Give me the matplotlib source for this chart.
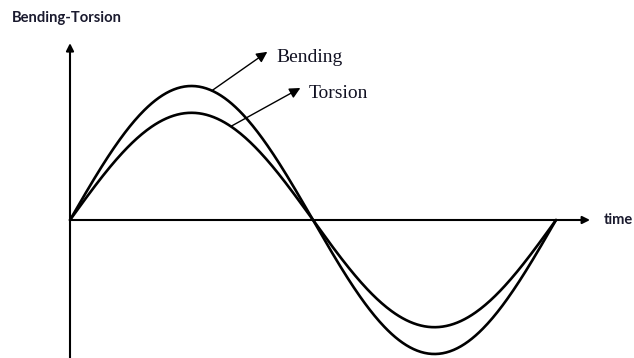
import numpy as np
import matplotlib.pyplot as plt

# series: amplitude of each wave (relative), one full period of time
series = ["Bending", "Torsion"]
amplitudes = [1.0, 0.8]
periods = 1.0

# where the two labels point on their curve, and where the labels sit
arrow_from_t = [0.292, 0.331]
label_pos = [(0.424, 1.215), (0.492, 0.945)]

W, H = 634, 358
fig = plt.figure(figsize=(W / 100, H / 100), dpi=100)
# axes box: t=0..1 -> px 70..556, y=-1..1 -> px 354..86
ax = fig.add_axes([70 / W, (H - 354) / H, 486 / W, 268 / H])
ax.set_xlim(0, 1)
ax.set_ylim(-1, 1)
ax.axis("off")

t = np.linspace(0, periods, 400)
for amp in amplitudes:
    ax.plot(t, amp * np.sin(2 * np.pi * t / periods), color="black", lw=1.9,
            clip_on=False, solid_capstyle="round")

# axes with arrow heads
axis_arrow = dict(arrowstyle="-|>", color="black", lw=1.5, mutation_scale=11,
                  shrinkA=0, shrinkB=0)
ax.annotate("", xy=(1.07, 0), xytext=(0, 0), arrowprops=axis_arrow,
            annotation_clip=False)
ax.annotate("", xy=(0, 1.32), xytext=(0, -1.04), arrowprops=axis_arrow,
            annotation_clip=False)

# pointer arrows and labels
label_arrow = dict(arrowstyle="-|>", color="black", lw=1.0, mutation_scale=16,
                   shrinkA=0, shrinkB=0)
for name, amp, t0, (lx, ly) in zip(series, amplitudes, arrow_from_t, label_pos):
    y0 = amp * np.sin(2 * np.pi * t0 / periods)
    ax.annotate("", xy=(lx - 0.018, ly + 0.04), xytext=(t0, y0),
                arrowprops=label_arrow, annotation_clip=False)
    ax.text(lx, ly, name, family="Liberation Serif", fontsize=14,
            va="center", ha="left", color="#111122")

ax.text(1.099, 0, "time", family="Lato", fontweight="bold", fontsize=10.5,
        va="center", ha="left", color="#1a1a2e")
fig.text(12 / W, 1 - 18 / H, "Bending-Torsion", family="Lato",
         fontweight="bold", fontsize=10.6, va="center", ha="left",
         color="#1a1a2e")

fig.savefig("out.png", dpi=100)
